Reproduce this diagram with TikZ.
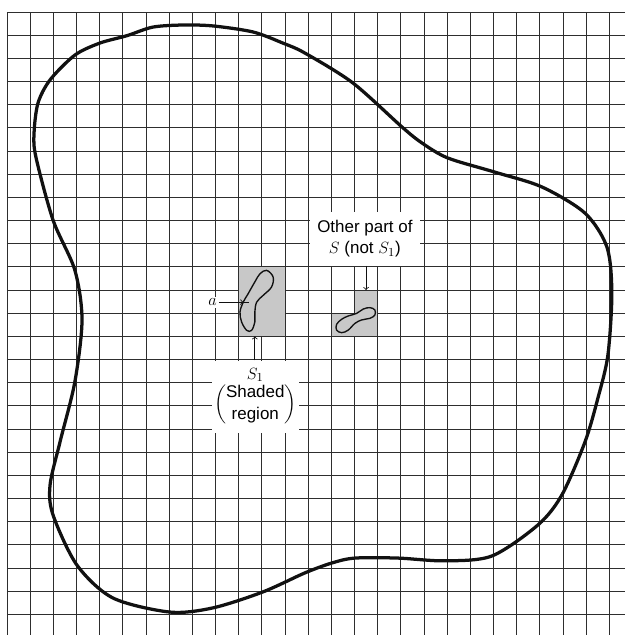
\documentclass[tikz,border=0pt]{standalone}
\usepackage{amsmath}
\usepackage{fontspec}
\setmainfont{Liberation Sans}
\usepackage{tikz}
\definecolor{fgInk}{HTML}{111111}
\definecolor{fgGrid}{HTML}{2E2E2E}
\definecolor{fgShade}{HTML}{C8C8C8}

\begin{document}
\begin{tikzpicture}[x=0.6cm,y=0.6cm,
    gridline/.style={fgGrid, line width=0.65pt},
    lblbox/.style={fill=white, align=center, inner sep=0pt,
                   font=\fontsize{12.5}{15.5}\selectfont},
    pointer/.style={->, line width=0.6pt, fgInk},
    outline/.style={fgInk, line width=2.4pt, line join=round},
    piece/.style={fgInk, line width=1pt, line join=round}]
    \useasboundingbox (-0.30,-0.89) rectangle (26.67,26.52);
    \foreach \y in {0,...,26}
        \draw[gridline] (0,\y) -- (26.9,\y);
    \foreach \x in {0,...,26}
        \draw[gridline] (\x,-1) -- (\x,26);
    \fill[fgShade] (10,12) rectangle (12,15);
    \draw[gridline] (10,12) rectangle (12,15);
    \fill[fgShade] (14,12) -- (16,12) -- (16,14) -- (15,14) -- (15,13) -- (14,13) -- cycle;
    \draw[gridline] (14,12) -- (16,12) -- (16,14) -- (15,14) -- (15,13) -- (14,13) -- cycle;
    \node[lblbox, minimum width=2.84cm, minimum height=1.39cm] (other) at (15.45,16.21)
        {Other part of\\$S$ (not $S_1$)};
    \node[lblbox, minimum width=2.25cm, minimum height=1.87cm] (s1lbl) at (10.72,9.39)
        {$S_1$\\$\left(\begin{tabular}{@{}c@{}}Shaded\\region\end{tabular}\right)$};
    \node[lblbox, inner sep=1.5pt] (a) at (8.87,13.48) {$a$};
    \draw[outline] plot[smooth cycle, tension=0.5] coordinates {
        (7.60,25.44) (8.89,25.40) (10.62,25.14) (11.91,24.66) (12.86,24.23)
        (14.93,22.94) (17.05,21.04)
        (17.91,20.35) (19.03,19.70) (21.06,19.09) (23.09,18.45) (24.95,17.32)
        (25.90,15.85) (26.11,13.87) (25.94,11.19) (25.51,9.34) (24.95,7.44)
        (23.95,5.15) (22.92,3.86) (20.93,2.52) (18.90,2.31) (16.88,2.43)
        (15.02,2.43) (14.03,2.22) (12.86,1.79) (11.05,0.97) (8.89,0.28)
        (7.03,0.10) (4.57,0.71) (3.02,2.13) (1.99,4.29) (1.86,5.58)
        (2.29,7.44) (2.93,10.03) (3.24,12.71) (2.93,14.86) (1.99,17.02)
        (1.25,19.74) (1.17,20.78) (1.34,22.07) (1.86,23.07) (2.93,24.14)
        (4.01,24.66) (5.18,24.98) (6.30,25.35)};
    \draw[piece] plot[smooth cycle, tension=0.6] coordinates {
        (11.21,14.85) (11.49,14.56) (11.42,14.13) (11.06,13.77) (10.78,13.48)
        (10.70,13.05) (10.70,12.62) (10.56,12.26) (10.35,12.26) (10.13,12.62)
        (10.06,13.05) (10.20,13.48) (10.41,13.84) (10.70,14.35) (10.92,14.70)};
    \draw[piece] plot[smooth cycle, tension=0.6] coordinates {
        (15.67,13.24) (15.88,13.14) (15.88,12.92) (15.67,12.78) (15.31,12.71)
        (15.02,12.56) (14.73,12.27) (14.45,12.16) (14.23,12.27) (14.23,12.52)
        (14.45,12.74) (14.73,12.88) (15.09,12.99) (15.38,13.18)};
    \coordinate (pa) at (10.20,13.48);
    \coordinate (top2) at (15.5,14);
    \coordinate (bot1) at (10.70,12);
    \draw[pointer] (a) -- (pa);
    \draw[line width=0.6pt, fgInk] (pa) -- ++(0.25,0);
    \draw[pointer] (other.south -| top2) -- (top2);
    \draw[pointer] (s1lbl.north -| bot1) -- (bot1);
\end{tikzpicture}
\end{document}
